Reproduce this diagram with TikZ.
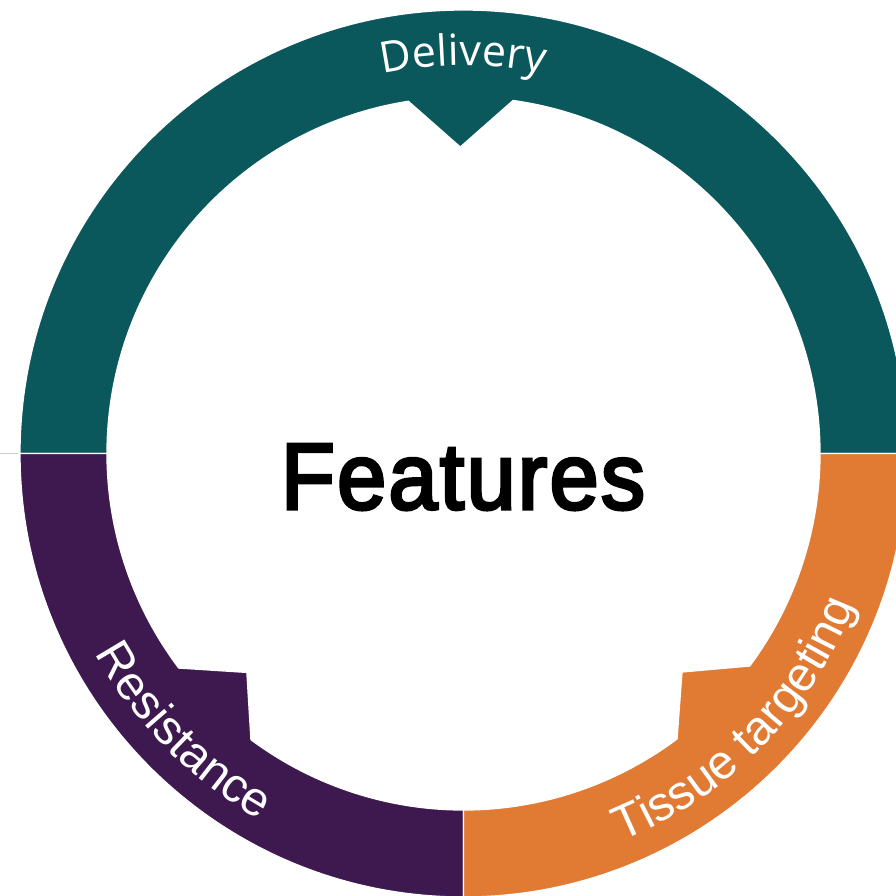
\documentclass[tikz,border=0pt]{standalone}
\usepackage{fontspec}
\usetikzlibrary{decorations.text}
\newfontfamily\opensans{Open Sans}
\newfontfamily\libsans{Liberation Sans}
\newfontfamily\titlesans{Liberation Sans}[FakeBold=3.5, LetterSpace=2.5]

\definecolor{ringteal}{HTML}{0A585C}
\definecolor{ringpurple}{HTML}{3D1950}
\definecolor{ringorange}{HTML}{E17A32}

% label fonts
\newcommand\delfont{\opensans\fontsize{43}{43}\selectfont\color{white}}
\newcommand\arcfont{\libsans\fontsize{48}{48}\selectfont\color{white}}

\begin{document}
\begin{tikzpicture}[x=1pt, y=1pt,
  segment/.style={draw=white, line width=1.3pt, line join=miter},
  arclabel/.style={decorate, decoration={text along path, text align=center, text={#1}}}
]
% canvas
\useasboundingbox (-463.5,-442.5) rectangle (432.5,453.5);
\clip (-463.5,-442.5) rectangle (432.5,453.5);

% thin guide line at the left edge
\draw[black!18, line width=1.5pt] (-463.5,0) -- (-445,0);

% upper half: Delivery
\path[segment, fill=ringteal]
  (0:443.5) arc[start angle=0, end angle=180, radius=443.5]
  -- (180:356.5) arc[start angle=180, end angle=98.9, radius=356.5]
  -- (90.6:306.5)
  -- (82.0:356.5) arc[start angle=82.0, end angle=0, radius=356.5]
  -- cycle;

% lower left quarter: Resistance
\path[segment, fill=ringpurple]
  (180:443.5) arc[start angle=180, end angle=270, radius=443.5]
  -- (270:356.5) arc[start angle=270, end angle=233.4, radius=356.5]
  -- (225.3:308)
  -- (217.0:356.5) arc[start angle=217.0, end angle=180, radius=356.5]
  -- cycle;

% lower right quarter: Tissue targeting
\path[segment, fill=ringorange]
  (270:443.5) arc[start angle=270, end angle=360, radius=443.5]
  -- (360:356.5) arc[start angle=360, end angle=323.4, radius=356.5]
  -- (315:309)
  -- (306.8:356.5) arc[start angle=306.8, end angle=270, radius=356.5]
  -- cycle;

% curved labels
\path[arclabel={|\delfont|Delivery}]
  (150:388) arc[start angle=150, end angle=30, radius=388];
\path[arclabel={|\arcfont|Resistance}]
  (180:419) arc[start angle=180, end angle=269.4, radius=419];
\path[arclabel={|\arcfont|Tissue targeting}]
  (271:419) arc[start angle=271, end angle=360, radius=419];

% centre title
\node[anchor=base, inner sep=0pt] (features) at (-0.5,-55.5)
  {\scalebox{0.94}[1]{\titlesans\fontsize{94}{94}\selectfont Features}};
\end{tikzpicture}
\end{document}
